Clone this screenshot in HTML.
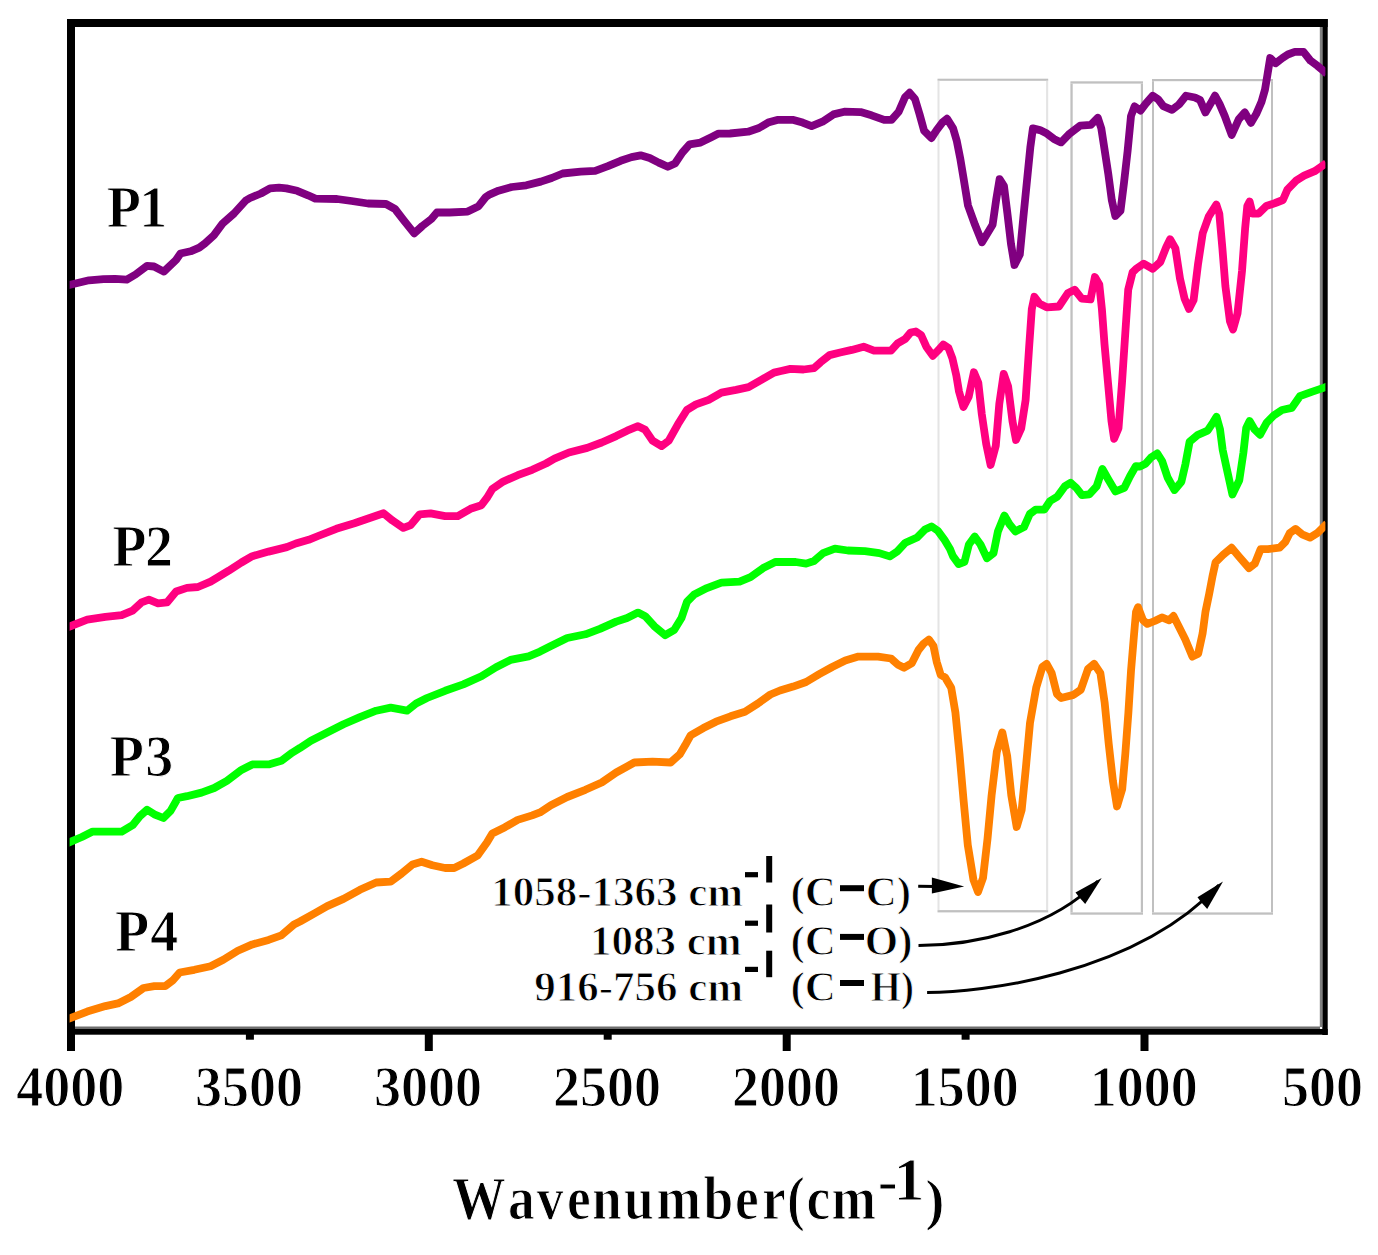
<!DOCTYPE html><html><head><meta charset="utf-8"><style>html,body{margin:0;padding:0;background:#fff;overflow:hidden}svg{display:block}</style></head><body><svg width="1378" height="1255" viewBox="0 0 1378 1255">
<rect x="0" y="0" width="1378" height="1255" fill="#fff"/>
<rect x="937.5" y="78.7" width="110.7" height="2.1" fill="#c0c0c0"/>
<rect x="937.5" y="910.1" width="110.7" height="2.3" fill="#c0c0c0"/>
<rect x="937.5" y="80.8" width="2.0" height="829.3" fill="#e4e4e4"/>
<rect x="1046.1" y="80.8" width="2.1" height="829.3" fill="#e4e4e4"/>
<rect x="1070.4" y="81.3" width="72.6" height="2.3" fill="#c0c0c0"/>
<rect x="1070.4" y="912.4" width="72.6" height="2.3" fill="#c0c0c0"/>
<rect x="1070.4" y="83.6" width="2.3" height="828.8" fill="#c0c0c0"/>
<rect x="1140.8" y="83.6" width="2.2" height="828.8" fill="#c0c0c0"/>
<rect x="1152" y="79" width="121.0" height="2.2" fill="#c0c0c0"/>
<rect x="1152" y="912.4" width="121.0" height="2.3" fill="#c0c0c0"/>
<rect x="1152" y="81.2" width="2.0" height="831.2" fill="#c0c0c0"/>
<rect x="1271" y="81.2" width="2.0" height="831.2" fill="#c0c0c0"/>
<g fill="#000">
<rect x="67" y="19" width="8" height="1032"/>
<rect x="67" y="19" width="1260.7" height="8"/>
<rect x="1322.3" y="19" width="5.4" height="1016"/>
<rect x="1319.8" y="27" width="2.5" height="1000" fill="#808080"/>
<rect x="75" y="1026.5" width="1245" height="2.5" fill="#6e6e6e"/>
<rect x="67" y="1029" width="1260.7" height="5.7"/>
<rect x="424.8" y="1030" width="8" height="21"/>
<rect x="782.7" y="1030" width="8" height="21"/>
<rect x="1140.5" y="1030" width="8" height="21"/>
<rect x="245.9" y="1030" width="8" height="9.7"/>
<rect x="603.7" y="1030" width="8" height="9.7"/>
<rect x="961.6" y="1030" width="8" height="9.7"/>
</g>
<defs><clipPath id="pc"><rect x="69.6" y="0" width="1255.8" height="1255"/></clipPath></defs>
<g fill="none" stroke-width="7.8" stroke-linejoin="round" stroke-linecap="butt" clip-path="url(#pc)">
<path d="M66.2,285.6L70.2,284.7L89.0,280.3L103.5,279.1L115.0,278.9L126.8,279.6L135.5,274.5L147.0,265.8L154.0,266.5L163.8,271.6L176.0,260.0L180.5,253.5L190.6,251.3L199.3,247.6L205.0,243.3L213.8,235.3L222.5,223.7L234.0,213.5L245.8,200.5L250.0,198.0L260.9,193.5L270.0,188.4L279.0,187.7L286.3,188.4L297.2,190.8L308.0,195.3L315.3,198.6L337.0,199.0L351.6,201.0L368.0,203.5L386.0,204.0L395.0,209.0L404.0,220.7L414.2,233.4L422.3,226.0L431.4,219.0L436.9,212.5L449.6,212.5L467.7,211.6L478.6,206.2L485.8,197.0L490.0,194.3L498.5,190.7L511.8,187.0L526.3,185.3L540.8,181.6L551.7,178.0L562.6,173.5L580.7,171.7L595.2,170.8L607.9,166.2L620.6,160.8L631.5,157.1L640.6,155.3L649.7,158.0L658.7,162.6L667.8,166.8L675.0,163.5L682.3,152.6L689.6,144.4L700.5,142.6L711.3,137.2L718.6,133.6L730.0,133.5L748.1,131.7L759.0,128.0L768.1,122.6L777.2,119.9L793.5,119.9L802.6,122.6L811.6,126.2L822.5,121.7L833.4,114.4L844.3,111.7L860.6,112.1L871.5,115.3L884.2,119.9L891.5,119.9L898.7,111.7L905.0,97.2L909.6,92.7L915.0,99.0L919.6,114.4L924.1,130.8L931.4,138.0L936.8,129.8L942.3,122.6L947.0,118.7L953.1,128.4L956.7,140.6L960.2,158.2L963.7,179.2L968.0,205.5L975.0,224.8L982.0,242.3L987.3,233.5L992.6,224.8L996.1,200.2L999.6,179.2L1004.0,186.2L1007.5,214.2L1011.0,244.0L1014.5,265.0L1019.8,254.6L1023.3,217.8L1026.8,182.7L1030.3,147.6L1032.9,128.4L1039.9,130.1L1046.9,133.6L1053.9,138.9L1061.0,142.4L1069.7,133.6L1080.2,125.7L1090.7,124.9L1097.8,117.8L1101.3,128.4L1104.8,151.1L1108.3,174.0L1111.8,200.2L1115.3,216.0L1120.5,210.7L1124.0,182.7L1127.6,151.1L1131.0,116.0L1134.6,106.4L1140.5,110.6L1145.8,103.6L1152.8,95.7L1158.0,99.2L1163.3,106.2L1172.0,109.8L1179.0,104.5L1186.0,95.7L1194.9,97.5L1200.1,100.1L1205.4,112.4L1210.6,103.6L1215.0,95.7L1219.4,103.6L1224.7,115.9L1231.7,135.0L1238.7,119.4L1244.8,112.4L1250.9,122.9L1256.2,114.1L1261.5,101.9L1265.0,89.6L1267.6,73.8L1270.2,58.0L1275.5,63.3L1282.5,58.0L1287.8,54.5L1294.8,51.9L1303.5,51.9L1310.5,60.7L1317.6,65.9L1322.8,70.3L1326.8,73.7" stroke="#800080"/>
<path d="M66.9,627.5L70.9,626.0L87.2,619.7L105.4,616.9L121.7,615.1L132.6,610.6L141.6,602.4L148.9,599.7L158.0,603.3L167.0,602.4L176.1,591.5L187.0,587.9L197.9,587.0L210.6,581.6L219.7,576.1L228.7,570.7L241.4,562.5L252.3,556.2L268.6,551.6L286.8,547.1L295.8,543.5L308.6,539.8L318.1,536.0L336.3,528.8L354.4,523.3L372.6,517.0L383.5,513.3L392.5,520.6L403.4,527.9L410.7,525.1L419.7,514.3L430.6,513.3L445.1,516.1L457.8,516.1L470.5,508.8L481.4,505.2L486.9,497.9L492.3,488.9L503.2,481.6L517.7,475.2L532.2,469.8L546.0,463.5L554.5,458.7L569.0,452.5L587.2,447.9L601.7,442.5L616.2,436.1L627.1,430.7L638.0,426.2L645.2,429.8L652.5,440.7L661.6,446.1L668.8,440.7L677.9,424.3L687.0,409.8L696.0,404.4L708.7,399.8L721.4,392.6L736.0,389.9L748.6,387.1L761.3,379.9L774.0,372.6L781.0,371.0L790.4,368.9L803.5,369.5L814.0,368.2L820.5,362.3L829.6,355.1L840.1,352.5L851.8,349.9L863.6,346.7L874.0,350.6L891.0,350.6L897.6,343.4L905.4,338.8L910.6,332.5L915.8,331.5L921.0,334.9L926.3,346.7L932.8,355.8L938.0,350.6L943.3,344.5L948.5,348.0L952.4,358.4L956.3,375.4L959.0,391.5L963.4,407.0L968.7,396.7L973.9,372.2L978.3,382.7L981.8,414.2L986.2,444.0L990.6,465.0L995.8,445.8L999.3,403.7L1003.7,373.9L1008.1,386.2L1012.5,421.3L1016.0,440.0L1021.2,428.3L1025.6,400.2L1029.1,347.6L1031.8,309.1L1034.4,296.8L1039.7,303.8L1046.7,307.3L1058.9,306.5L1067.7,293.3L1074.7,289.8L1081.7,298.6L1090.5,299.4L1094.9,277.0L1099.3,284.5L1101.9,309.1L1104.5,344.1L1108.0,382.7L1111.5,421.3L1114.1,438.8L1118.5,428.3L1122.0,382.7L1125.5,330.1L1128.2,289.8L1132.6,272.3L1136.0,268.9L1143.6,263.6L1152.7,268.8L1160.3,262.0L1166.3,246.9L1170.1,239.3L1175.4,248.4L1180.0,278.7L1184.5,298.4L1189.0,309.0L1193.6,299.9L1198.1,263.6L1202.7,233.3L1208.7,216.6L1216.3,204.5L1219.3,213.6L1222.4,248.4L1225.4,286.3L1229.9,321.1L1233.0,329.5L1237.5,313.5L1242.0,271.1L1245.1,228.7L1247.3,206.0L1249.6,201.5L1252.6,213.6L1258.7,213.6L1266.3,206.0L1275.3,203.0L1282.9,200.0L1287.5,189.4L1296.5,180.3L1304.1,175.7L1314.7,171.2L1322.3,165.9L1326.3,163.1" stroke="#ff0080"/>
<path d="M66.9,843.3L70.9,841.6L81.8,837.0L92.7,831.6L105.4,831.6L121.7,831.6L132.6,825.2L139.8,816.2L147.1,809.8L154.3,814.3L163.4,818.0L170.7,810.7L177.9,798.0L187.0,796.2L201.5,792.6L214.2,788.0L226.9,780.8L241.4,769.9L252.3,764.4L268.6,764.4L281.3,760.8L292.2,752.7L300.0,747.9L310.9,740.7L327.2,732.5L343.5,724.3L359.9,717.1L376.2,710.7L390.7,707.6L407.0,710.7L416.1,703.5L427.0,698.0L445.1,690.8L463.3,684.4L481.4,676.3L496.0,667.2L510.5,659.9L528.6,656.3L540.0,651.6L550.9,646.1L567.2,638.0L585.4,634.3L599.9,628.9L616.2,621.6L627.1,618.0L638.0,612.6L645.2,616.2L654.3,626.2L665.2,635.2L674.3,629.8L681.5,618.0L687.0,601.7L694.2,594.4L706.9,588.1L721.4,582.6L739.6,581.7L750.5,577.2L763.1,568.1L775.8,561.8L795.7,562.0L806.1,563.6L814.0,561.0L823.1,553.1L834.9,548.6L847.9,550.5L864.9,551.2L879.3,553.1L889.7,556.4L897.6,551.2L905.4,542.7L917.1,537.5L925.0,529.6L931.5,526.4L938.0,530.9L944.6,540.1L950.0,549.0L952.9,556.1L958.7,564.1L964.5,561.9L968.9,544.5L974.7,536.5L980.5,544.5L987.0,558.3L993.5,553.2L997.9,531.4L1004.4,515.5L1009.5,524.2L1015.3,531.4L1024.0,527.1L1029.8,514.0L1035.6,509.7L1044.3,509.7L1050.1,501.0L1057.4,496.6L1064.7,486.4L1070.5,482.8L1076.3,487.9L1082.1,495.2L1089.3,494.4L1096.6,486.4L1102.4,469.0L1108.2,479.2L1115.5,491.5L1124.2,487.9L1130.0,476.3L1135.8,466.1L1140.0,466.5L1145.5,463.8L1151.0,457.5L1157.2,453.4L1162.1,461.0L1167.6,477.5L1174.5,490.0L1181.4,481.7L1185.5,463.8L1189.6,441.7L1197.9,434.8L1207.6,430.7L1213.1,422.4L1216.5,416.9L1220.0,429.3L1222.7,450.0L1226.9,469.3L1232.4,494.5L1239.3,480.3L1243.4,452.7L1246.2,427.9L1249.6,421.0L1254.4,429.3L1260.0,434.8L1266.8,422.4L1273.7,415.5L1282.0,410.0L1291.7,407.9L1299.9,396.2L1311.0,392.1L1323.4,387.9L1327.4,386.5" stroke="#00ff00"/>
<path d="M66.9,1019.4L70.9,1017.9L87.2,1011.6L105.4,1006.1L118.0,1003.4L130.8,997.0L143.5,988.0L154.3,986.2L165.2,986.2L172.5,980.7L179.7,972.5L194.3,969.8L210.6,966.2L223.3,959.8L237.8,950.8L252.3,944.4L268.6,939.9L281.3,935.4L294.0,924.5L300.0,921.5L314.5,913.4L327.2,906.1L343.5,898.9L359.9,889.8L376.2,882.5L390.7,881.6L401.6,873.5L412.5,864.4L421.6,861.7L432.4,865.3L445.1,868.0L454.2,868.0L463.3,863.5L477.8,855.3L486.9,842.6L492.3,833.5L505.0,827.2L517.7,819.9L532.2,815.4L540.0,812.4L550.9,805.2L567.2,797.0L585.4,789.8L601.7,782.5L616.2,772.5L634.3,762.5L652.5,761.6L670.6,762.5L679.7,754.4L685.1,745.3L690.6,735.3L703.3,728.1L716.0,721.7L730.5,716.3L745.0,711.7L757.7,703.6L770.4,694.5L780.0,690.5L793.1,686.6L806.1,682.0L819.2,674.2L832.2,667.0L845.3,660.5L858.4,656.6L878.0,656.6L891.0,658.5L897.6,664.4L904.1,667.7L911.9,663.1L918.5,650.0L923.7,643.5L928.9,639.6L933.5,646.1L936.7,661.8L940.7,674.9L945.0,677.3L951.2,687.7L955.4,712.5L959.5,754.0L963.7,801.7L967.8,845.2L973.5,880.0L978.0,892.0L983.0,878.0L987.5,839.0L991.6,795.4L996.8,751.9L1002.3,732.4L1007.2,756.1L1011.3,795.4L1016.7,827.0L1021.7,809.9L1025.8,768.5L1030.0,722.9L1036.2,687.7L1042.4,666.9L1046.6,663.8L1051.7,673.2L1056.9,693.9L1061.1,698.0L1073.5,694.9L1080.8,689.7L1088.0,669.0L1094.2,663.8L1100.4,673.2L1104.6,702.2L1108.7,743.6L1112.9,780.9L1117.0,806.5L1122.2,789.2L1125.3,754.0L1128.4,712.5L1131.0,671.0L1134.0,635.0L1136.0,612.0L1138.0,607.2L1143.1,620.3L1147.4,623.9L1154.7,621.0L1161.9,617.4L1169.2,620.3L1173.5,616.0L1177.9,624.7L1185.2,639.2L1192.4,656.6L1198.2,653.7L1202.6,633.4L1205.5,611.6L1209.1,594.2L1212.7,575.3L1215.6,562.2L1222.9,555.0L1231.6,547.7L1238.9,556.4L1249.0,568.1L1254.8,563.7L1260.6,549.2L1267.9,549.2L1279.5,547.7L1285.3,541.9L1289.7,533.2L1295.5,528.9L1302.7,534.7L1310.0,537.6L1317.2,533.2L1323.0,527.4L1327.0,523.4" stroke="#ff8000"/>
</g>
<g style="font-family:'Liberation Serif',serif;font-weight:bold;font-size:54px" fill="#000" text-anchor="middle" stroke="#fff" stroke-width="1" transform="translate(0,1106.5) scale(1,1.055) translate(0,-1106.5)">
<text x="70.2" y="1106.5">4000</text>
<text x="249.1" y="1106.5">3500</text>
<text x="428.0" y="1106.5">3000</text>
<text x="606.9" y="1106.5">2500</text>
<text x="785.9" y="1106.5">2000</text>
<text x="964.8" y="1106.5">1500</text>
<text x="1143.7" y="1106.5">1000</text>
<text x="1322.6" y="1106.5">500</text>
</g>
<g style="font-family:'Liberation Serif',serif;font-weight:bold;font-size:56px" fill="#000" stroke="#fff" stroke-width="1">
<text x="106.8 139.35" y="227" transform="translate(0,227) scale(1,1.045) translate(0,-227)">P1</text>
<text x="112.35 145.1" y="565.7" transform="translate(0,565.7) scale(1,1.045) translate(0,-565.7)">P2</text>
<text x="109.7 145.25" y="776.5" transform="translate(0,776.5) scale(1,1.045) translate(0,-776.5)">P3</text>
<text x="115 150.25" y="950.9" transform="translate(0,950.9) scale(1,1.045) translate(0,-950.9)">P4</text>
</g>
<g style="font-family:'Liberation Serif',serif;font-weight:bold" fill="#000" stroke="#fff" stroke-width="1">
<text transform="translate(0,1219) scale(0.92,1.04) translate(0,-1219)" x="491.7 552.3 583.5 616.3 643.5 678.4 713.5 764.8 799.0 828.2 855.4 876.5 903.9" y="1219" style="font-size:58px">Wavenumber(cm</text>
<text x="877.65" y="1199.5" style="font-size:60px">-</text>
<text x="893.5" y="1199.8" style="font-size:62px">1</text>
<text x="925.3" y="1219.4" style="font-size:58px">)</text>
</g>
<g style="font-family:'Liberation Serif',serif;font-weight:bold;font-size:43px" fill="#000" stroke="#fff" stroke-width="1">
<text x="743.2" y="906.4" text-anchor="end">1058-1363 cm</text>
<rect x="745" y="872.1" width="13" height="5.2" stroke="none"/>
<rect x="766.2" y="856" width="6" height="26.5" stroke="none"/>
<text x="790.5" y="906.4">(C</text>
<rect x="840" y="885.2" width="24" height="6" stroke="none"/>
<text x="865.7" y="906.4">C)</text>
<text x="741.7" y="955.1" text-anchor="end">1083 cm</text>
<rect x="745" y="920.6" width="13" height="5.2" stroke="none"/>
<rect x="766.2" y="904.5" width="6" height="28.0" stroke="none"/>
<text x="790.5" y="955.1">(C</text>
<rect x="840" y="933.9" width="24" height="6" stroke="none"/>
<text x="864.8" y="955.1">O)</text>
<text x="743.2" y="1001.2" text-anchor="end">916-756 cm</text>
<rect x="745" y="966.8" width="13" height="5.2" stroke="none"/>
<rect x="766.2" y="950.7" width="6" height="26.5" stroke="none"/>
<text x="790.5" y="1001.2">(C</text>
<rect x="840" y="980.0" width="24" height="6" stroke="none"/>
<text x="870.5" y="1001.2" textLength="43.5" lengthAdjust="spacingAndGlyphs">H)</text>
</g>
<g stroke="#000" stroke-width="3" fill="none">
<path d="M918.2,886.3 L935,886.6"/>
<path d="M918.5,945.5 C971.7,945.5 1048.5,930.4 1098,881"/>
<path d="M927.1,992.5 C977.7,992.5 1132.7,976.4 1219,885"/>
</g>
<g fill="#000">
<path d="M964.2,886.6 L931.9,877.6 L931.9,893.6 Z"/>
<path d="M1101.7,877.9 L1075.5,892.4 L1079,897 L1085.2,904.1 Z"/>
<path d="M1223,881.4 L1197.5,897.2 L1201,902 L1207.2,909 Z"/>
</g>
</svg></body></html>
